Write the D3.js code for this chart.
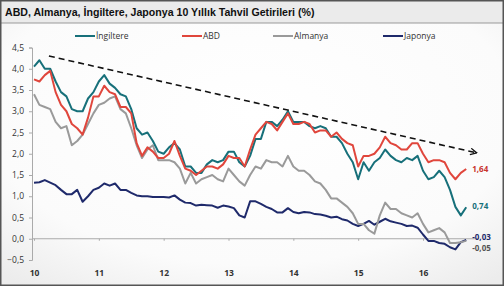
<!DOCTYPE html>
<html>
<head>
  <style>
    body { margin: 0; background: #fff; }
    svg { display: block; }
  </style>
</head>
<body>
  <svg width="504" height="286"></svg>
  <script src="https://d3js.org/d3.v7.min.js"></script>
  <script>
    // monthly values, Jan 2010 .. Sep 2016
    const ingiltere = [
      4.05, 4.20, 4.00, 4.00, 3.70, 3.45, 3.35, 3.05, 3.00, 3.00, 3.30, 3.45,
      3.70, 3.85, 3.65, 3.55, 3.40, 3.35, 3.05, 2.60, 2.45, 2.50, 2.30, 2.05,
      2.00, 2.15, 2.25, 2.10, 1.70, 1.70, 1.55, 1.55, 1.75, 1.85, 1.80, 1.85,
      2.05, 2.05, 1.80, 1.70, 1.95, 2.35, 2.35, 2.75, 2.75, 2.65, 2.80, 3.00,
      2.75, 2.75, 2.75, 2.65, 2.60, 2.65, 2.60, 2.40, 2.40, 2.25, 2.00, 1.80,
      1.40, 1.80, 1.60, 1.80, 1.90, 2.10, 1.95, 1.85, 1.80, 1.90, 1.85, 1.95,
      1.60, 1.40, 1.45, 1.60, 1.45, 1.15, 0.75, 0.55, 0.74
    ];
    const abd = [
      3.75, 3.70, 3.85, 3.95, 3.45, 3.15, 3.00, 2.70, 2.60, 2.45, 2.85, 3.35,
      3.35, 3.60, 3.45, 3.40, 3.10, 3.10, 2.95, 2.25, 1.95, 2.15, 2.05, 1.90,
      1.90, 2.00, 2.30, 1.95, 1.65, 1.60, 1.50, 1.60, 1.70, 1.70, 1.65, 1.75,
      1.95, 1.90, 1.90, 1.70, 2.10, 2.45, 2.60, 2.75, 2.70, 2.55, 2.75, 2.95,
      2.70, 2.70, 2.75, 2.70, 2.50, 2.55, 2.55, 2.40, 2.50, 2.35, 2.25, 2.20,
      1.70, 1.95, 1.95, 2.00, 2.15, 2.40, 2.25, 2.20, 2.10, 2.10, 2.25, 2.25,
      2.00, 1.80, 1.85, 1.85, 1.80, 1.55, 1.40, 1.55, 1.64
    ];
    const almanya = [
      3.40, 3.15, 3.10, 3.05, 2.75, 2.60, 2.65, 2.20, 2.30, 2.45, 2.70, 2.95,
      3.15, 3.20, 3.30, 3.35, 3.05, 2.95, 2.60, 2.20, 1.90, 2.10, 2.20, 1.85,
      1.85, 1.85, 1.80, 1.65, 1.30, 1.55, 1.30, 1.40, 1.45, 1.50, 1.40, 1.35,
      1.65, 1.50, 1.35, 1.25, 1.50, 1.70, 1.65, 1.85, 1.80, 1.80, 1.70, 1.95,
      1.70, 1.60, 1.60, 1.50, 1.35, 1.30, 1.15, 0.95, 0.95, 0.85, 0.75, 0.60,
      0.35, 0.35, 0.20, 0.12, 0.55, 0.85, 0.70, 0.70, 0.60, 0.55, 0.50, 0.60,
      0.35, 0.15, 0.20, 0.25, 0.15, -0.10, -0.10, -0.08, -0.05
    ];
    const japonya = [
      1.32, 1.33, 1.38, 1.32, 1.26, 1.15, 1.05, 1.05, 1.15, 0.87, 1.00, 1.15,
      1.20, 1.30, 1.25, 1.30, 1.15, 1.15, 1.08, 1.02, 1.00, 1.00, 0.98, 0.98,
      0.98, 0.97, 1.02, 0.92, 0.85, 0.84, 0.78, 0.80, 0.79, 0.78, 0.73, 0.78,
      0.76, 0.72, 0.55, 0.50, 0.88, 0.88, 0.82, 0.75, 0.70, 0.62, 0.62, 0.72,
      0.63, 0.60, 0.63, 0.62, 0.58, 0.57, 0.54, 0.50, 0.52, 0.46, 0.43, 0.35,
      0.30, 0.35, 0.42, 0.33, 0.40, 0.47, 0.41, 0.38, 0.35, 0.30, 0.31, 0.26,
      0.10, -0.05, -0.05, -0.10, -0.12, -0.20, -0.25, -0.08, -0.03
    ];

    const seriesNames = ["İngiltere", "ABD", "Almanya", "Japonya"];
    const seriesData = [ingiltere, abd, almanya, japonya];
    const seriesColors = ["#17707a", "#e0463c", "#9a9a9a", "#1f2a6b"];
    const yTicks = [-0.5, 0, 0.5, 1, 1.5, 2, 2.5, 3, 3.5, 4, 4.5];
    const xTicks = [10, 11, 12, 13, 14, 15, 16];
    const endLabels = ["0,74", "1,64", "-0,05", "-0,03"];
    const trend = [[10.23, 4.3], [16.83, 2.02]];

    const width = 504;
    const height = 286;
    const svg = d3.select("svg").attr("viewBox", [0, 0, width, height]);

    const fmt = v => d3.format(".1f")(v).replace(".", ",");

    const x = d3.scaleLinear().domain([10, 16]).range([34, 423]);
    const y = d3.scaleLinear().domain([-0.5, 4.5]).range([260, 47.5]);

    // background and frame
    const defs = svg.append("defs");
    const grad = defs.append("radialGradient").attr("id", "bg")
      .attr("cx", "50%").attr("cy", "40%").attr("r", "75%");
    grad.append("stop").attr("offset", "0%").attr("stop-color", "#ffffff");
    grad.append("stop").attr("offset", "70%").attr("stop-color", "#fbfbfb");
    grad.append("stop").attr("offset", "100%").attr("stop-color", "#ececec");

    svg.append("rect")
      .attr("x", 0).attr("y", 0).attr("width", width).attr("height", height)
      .attr("fill", "url(#bg)");
    svg.append("rect")
      .attr("x", 1).attr("y", 1).attr("width", width - 2).attr("height", 22)
      .attr("fill", "#ebebeb");
    svg.append("line")
      .attr("x1", 1).attr("x2", width - 1).attr("y1", 23).attr("y2", 23)
      .attr("stroke", "#999").attr("stroke-width", 1);
    svg.append("rect")
      .attr("x", 0.75).attr("y", 0.75).attr("width", width - 1.5).attr("height", height - 1.5)
      .attr("fill", "none").attr("stroke", "#555").attr("stroke-width", 1.5);

    svg.append("text")
      .attr("x", 5).attr("y", 16)
      .attr("font-family", "Liberation Sans, Arial, sans-serif")
      .attr("font-size", "10.6px")
      .attr("font-weight", "bold")
      .attr("fill", "#111")
      .text("ABD, Almanya, İngiltere, Japonya 10 Yıllık Tahvil Getirileri (%)");

    // legend
    const legendX = [75, 182, 273, 383];
    const legend = svg.append("g")
      .attr("font-family", "Open Sans, sans-serif")
      .attr("font-size", "8.5px")
      .attr("fill", "#333");
    seriesNames.forEach((name, i) => {
      legend.append("line")
        .attr("x1", legendX[i]).attr("x2", legendX[i] + 20)
        .attr("y1", 36).attr("y2", 36)
        .attr("stroke", seriesColors[i]).attr("stroke-width", 2);
      legend.append("text")
        .attr("x", legendX[i] + 21).attr("y", 39)
        .text(name);
    });

    // axes
    const yAxis = svg.append("g")
      .attr("transform", `translate(${x(10) - 2},0)`)
      .call(d3.axisLeft(y).tickValues(yTicks).tickFormat(fmt).tickSize(3).tickPadding(5));
    yAxis.select(".domain").attr("stroke", "#aaa");
    yAxis.selectAll(".tick line").attr("stroke", "#aaa");
    yAxis.selectAll("text")
      .attr("font-family", "Open Sans, sans-serif")
      .attr("font-size", "8.5px")
      .attr("fill", "#333");

    const xAxis = svg.append("g")
      .attr("transform", `translate(0,${y(0)})`)
      .call(d3.axisBottom(x).tickValues(xTicks).tickFormat(d => d).tickSize(2).tickSizeOuter(0));
    xAxis.select(".domain").attr("stroke", "#aaa")
      .attr("d", `M${x(10) - 2},0H${x(16.85)}`);
    xAxis.selectAll(".tick line").attr("stroke", "#aaa");
    xAxis.selectAll("text")
      .attr("y", 31)
      .attr("font-family", "Open Sans, sans-serif")
      .attr("font-size", "8.5px")
      .attr("font-weight", "bold")
      .attr("fill", "#333");

    // lines (drawn back to front: Japonya, Almanya, İngiltere, ABD)
    const line = d3.line()
      .x((d, i) => x(10 + i / 12))
      .y(d => y(d));
    [3, 2, 0, 1].forEach(k => {
      svg.append("path")
        .datum(seriesData[k])
        .attr("fill", "none")
        .attr("stroke", seriesColors[k])
        .attr("stroke-width", 2)
        .attr("stroke-linejoin", "round")
        .attr("d", line);
    });

    // trend arrow
    defs.append("marker")
      .attr("id", "arrow")
      .attr("viewBox", "0 0 10 10")
      .attr("refX", 9).attr("refY", 5)
      .attr("markerWidth", 5).attr("markerHeight", 5)
      .attr("orient", "auto")
      .append("path")
      .attr("d", "M1,1L9,5L1,9")
      .attr("fill", "none")
      .attr("stroke", "#111")
      .attr("stroke-width", 1.6);
    svg.append("line")
      .attr("x1", x(trend[0][0])).attr("y1", y(trend[0][1]))
      .attr("x2", x(trend[1][0])).attr("y2", y(trend[1][1]))
      .attr("stroke", "#111")
      .attr("stroke-width", 1.6)
      .attr("stroke-dasharray", "6,4")
      .attr("marker-end", "url(#arrow)");

    // end labels
    const labelY = [0.76, 1.64, -0.23, 0.03];
    const labelColors = ["#17707a", "#c8352d", "#555", "#1f2a6b"];
    seriesData.forEach((s, k) => {
      svg.append("text")
        .attr("x", x(10 + (s.length - 1) / 12) + 6)
        .attr("y", y(labelY[k]))
        .attr("dy", "0.35em")
        .attr("font-family", "Open Sans, sans-serif")
        .attr("font-size", "8px")
        .attr("font-weight", "bold")
        .attr("fill", labelColors[k])
        .text(endLabels[k]);
    });
  </script>
</body>
</html>
